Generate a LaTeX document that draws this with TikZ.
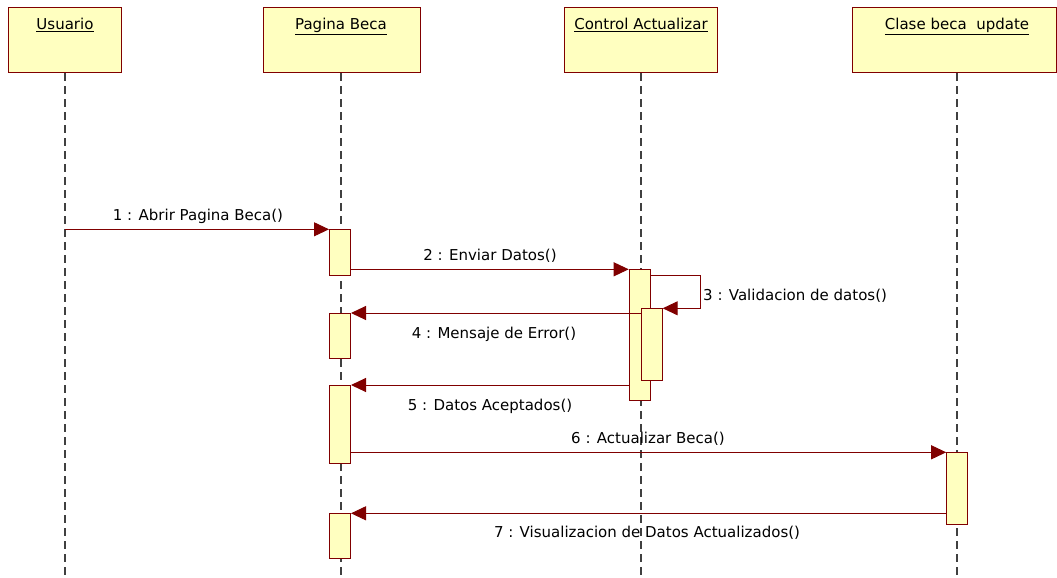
\documentclass[tikz,border=0pt]{standalone}
\usepackage{fontspec}
\setmainfont{DejaVu Sans}
\usetikzlibrary{arrows.meta}
\definecolor{dkred}{HTML}{800000}
\definecolor{boxfill}{HTML}{FFFFC0}
\definecolor{lifegray}{HTML}{404040}
\begin{document}
\begin{tikzpicture}[x=1pt,y=-1pt,
  font=\fontsize{15}{18}\selectfont,
  head/.style={draw=dkred, fill=boxfill, line width=1pt, inner sep=0pt, anchor=north west},
  title/.style={inner sep=0pt, anchor=base},
  act/.style={draw=dkred, fill=boxfill, line width=1pt, inner sep=0pt, minimum width=21pt, anchor=north},
  msg/.style={draw=dkred, line width=1pt, -{Triangle[length=15pt,width=14pt]}, dkred},
  life/.style={draw=lifegray, line width=1.1pt, dash pattern=on 8pt off 5pt},
  lbl/.style={inner sep=0pt, anchor=base}
]
\useasboundingbox (0,0) rectangle (1057,578);
% header boxes
\node[head, minimum width=113pt, minimum height=65pt] (hU) at (8,7) {};
\node[head, minimum width=157pt, minimum height=65pt] (hP) at (263,7) {};
\node[head, minimum width=153pt, minimum height=65pt] (hC) at (564,7) {};
\node[head, minimum width=204pt, minimum height=65pt] (hB) at (852,7) {};
\node[title] (tU) at (65,30) {\underline{Usuario}};
\node[title] (tP) at (341,30) {\underline{Pagina Beca}};
\node[title] (tC) at (641,30) {\underline{Control Actualizar}};
\node[title] (tB) at (957,30) {\underline{Clase beca\ \ update}};
% lifelines
\coordinate (eU) at (65,578);
\coordinate (eP) at (341,578);
\coordinate (eC) at (641,578);
\coordinate (eB) at (957,578);
\draw[life] (hU.south -| eU) -- (eU);
\draw[life] (hP.south -| eP) -- (eP);
\draw[life] (hC.south -| eC) -- (eC);
\draw[life] (hB.south -| eB) -- (eB);
% activations
\node[act, minimum height=46pt] (pb1) at (340,229.3) {};
\node[act, minimum height=45pt] (pb2) at (340,313) {};
\node[act, minimum height=78pt] (pb3) at (340,385) {};
\node[act, minimum height=45pt] (pb4) at (340,513.3) {};
\node[act, minimum height=131pt] (ca1) at (639.7,269.3) {};
\node[act, minimum height=72pt] (ca2) at (651.7,308.3) {};
\node[act, minimum height=72pt] (cb1) at (957.2,452.3) {};
% messages
\coordinate (m1s) at (65,229.3);
\draw[msg] (m1s) -- (pb1.north west);
\draw[msg] (pb1.east |- ca1.north) -- (ca1.north west);
\coordinate (m3a) at ([yshift=-6pt]ca1.north east);
\coordinate (m3b) at (700,275.3);
\draw[msg] (m3a) -- (m3b) -- (m3b |- ca2.north) -- (ca2.north east);
\draw[msg] (ca2.west |- pb2.north) -- (pb2.north east);
\draw[msg] (ca1.west |- pb3.north) -- (pb3.north east);
\draw[msg] (pb3.east |- cb1.north) -- (cb1.north west);
\draw[msg] (cb1.west |- pb4.north) -- (pb4.north east);
% labels
\node[lbl] (l1) at (198,220) {1 : Abrir Pagina Beca()};
\node[lbl] (l2) at (490,260) {2 : Enviar Datos()};
\node[lbl, anchor=base west] (l3) at (703,300) {3 : Validacion de datos()};
\node[lbl] (l4) at (494,338) {4 : Mensaje de Error()};
\node[lbl] (l5) at (490,410) {5 : Datos Aceptados()};
\node[lbl] (l6) at (648,443) {6 : Actualizar Beca()};
\node[lbl] (l7) at (647,537) {7 : Visualizacion de Datos Actualizados()};
\end{tikzpicture}
\end{document}
